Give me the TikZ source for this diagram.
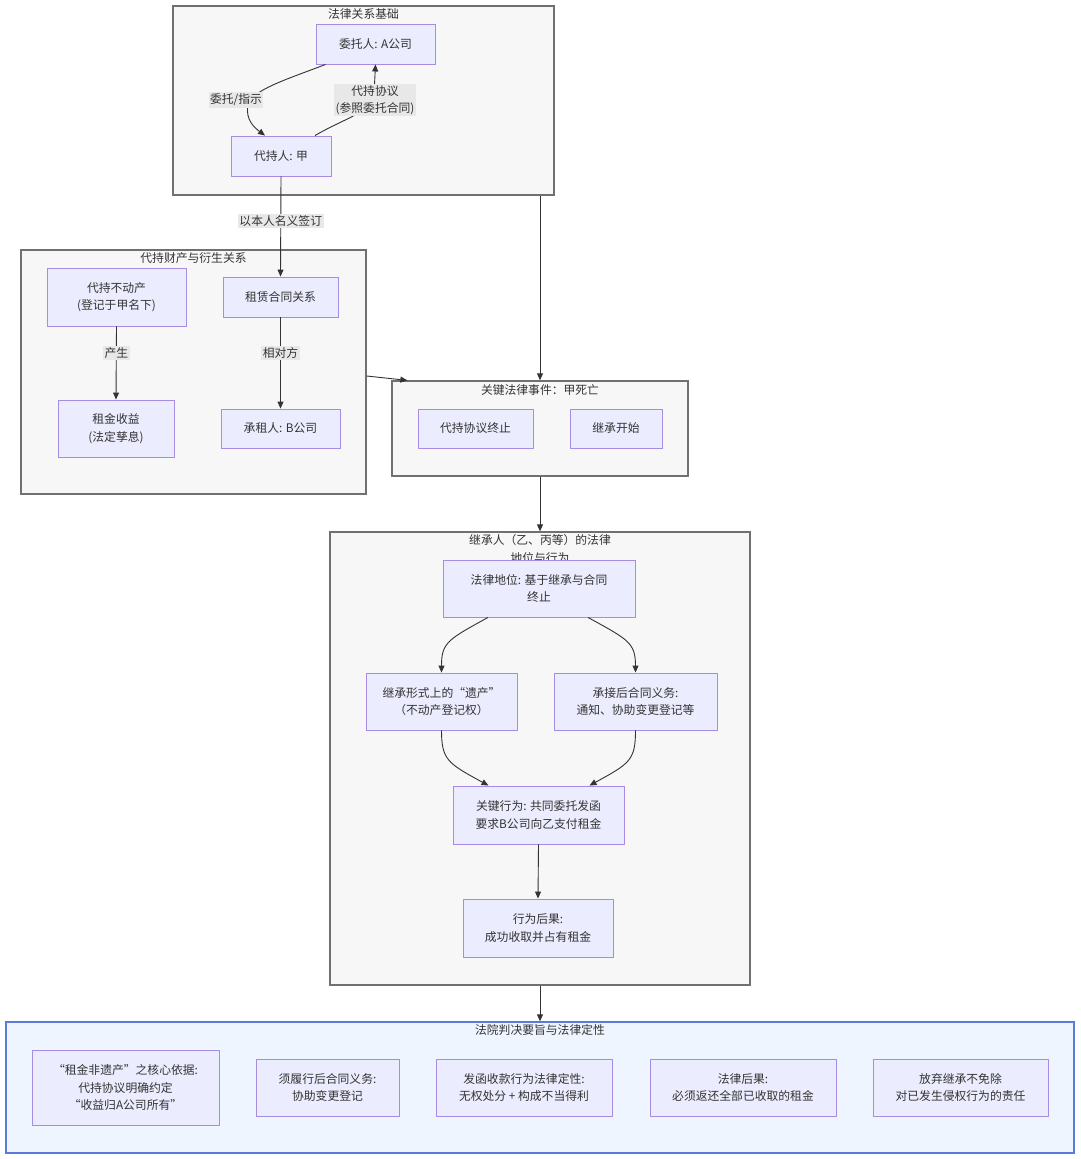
\documentclass[tikz,border=0pt]{standalone}
\usepackage{fontspec}
\setmainfont{Noto Sans CJK SC}
\usetikzlibrary{arrows.meta}
\definecolor{nodefill}{HTML}{ECECFF}
\definecolor{nodedraw}{HTML}{A68CE3}
\definecolor{clfill}{HTML}{F7F7F7}
\definecolor{cldraw}{HTML}{707070}
\definecolor{edgec}{HTML}{333333}
\definecolor{lblfill}{HTML}{E8E8E8}
\definecolor{bluefill}{HTML}{EFF5FF}
\definecolor{bluedraw}{HTML}{5B7BDB}
\newcommand\fs{\fontsize{11.8}{17.5}\selectfont}
\tikzset{
  box/.style={draw=nodedraw, fill=nodefill, line width=0.9pt, align=center, inner sep=0pt, font=\fs, text=black!80},
  cluster/.style={draw=cldraw, fill=clfill, line width=1.3pt, inner sep=0pt},
  bluecluster/.style={draw=bluedraw, fill=bluefill, line width=1.3pt, inner sep=0pt},
  ttl/.style={font=\fs, align=center, inner sep=0pt, text=black!80},
  lbl/.style={fill=lblfill, inner sep=1.5pt, align=center, font=\fs, text=black!80},
  arr/.style={draw=edgec, line width=0.9pt, -{Triangle[length=7pt,width=6pt]}},
}
\begin{document}
\begin{tikzpicture}[x=1pt,y=-1pt]
\useasboundingbox[fill=white] (0,0) rectangle (1080,1159);

% ---------- cluster 1
\node[cluster, minimum width=381pt, minimum height=189pt] (c1) at (363.5,100.5) {};
\node[ttl] (t1) at (363.5,14) {法律关系基础};
\node[box, minimum width=119pt, minimum height=40pt] (A) at (375.5,44) {委托人: A公司};
\node[box, minimum width=100pt, minimum height=40pt] (J) at (281,156) {代持人: 甲};

% ---------- cluster 2
\node[cluster, minimum width=345pt, minimum height=244pt] (c2) at (193.5,372) {};
\node[ttl] (t2) at (193.5,258) {代持财产与衍生关系};
\node[box, minimum width=139pt, minimum height=58pt] (P) at (116.5,297) {代持不动产\\(登记于甲名下)};
\node[box, minimum width=115pt, minimum height=40pt] (L) at (280.5,297) {租赁合同关系};
\node[box, minimum width=116pt, minimum height=57pt] (R) at (116,428.5) {租金收益\\(法定孳息)};
\node[box, minimum width=119pt, minimum height=39pt] (T) at (280.5,428.5) {承租人: B公司};

% ---------- cluster 3
\node[cluster, minimum width=296pt, minimum height=95pt] (c3) at (540,428.5) {};
\node[ttl] (t3) at (540,390) {关键法律事件：甲死亡};
\node[box, minimum width=115pt, minimum height=39pt] (E1) at (475.5,428.5) {代持协议终止};
\node[box, minimum width=92pt, minimum height=39pt] (E2) at (616,428.5) {继承开始};

% ---------- cluster 4
\node[cluster, minimum width=420pt, minimum height=453pt] (c4) at (540,758.5) {};
\node[ttl] (t4) at (540,549) {继承人（乙、丙等）的法律\\地位与行为};
\node[box, minimum width=192pt, minimum height=57pt] (S) at (539,588.5) {法律地位: 基于继承与合同\\终止};
\node[box, minimum width=151pt, minimum height=57pt] (H1) at (441.5,701.5) {继承形式上的“遗产”\\（不动产登记权）};
\node[box, minimum width=163pt, minimum height=57pt] (H2) at (635.5,701.5) {承接后合同义务:\\通知、协助变更登记等};
\node[box, minimum width=171pt, minimum height=58pt] (K) at (538.5,815) {关键行为: 共同委托发函\\要求B公司向乙支付租金};
\node[box, minimum width=150pt, minimum height=58pt] (Q) at (538,928) {行为后果:\\成功收取并占有租金};

% ---------- cluster 5
\node[bluecluster, minimum width=1068pt, minimum height=131pt] (c5) at (540,1087.5) {};
\node[ttl] (t5) at (540,1030) {法院判决要旨与法律定性};
\node[box, minimum width=187pt, minimum height=75pt] (F1) at (125.5,1087.5) {“租金非遗产”之核心依据:\\代持协议明确约定\\“收益归A公司所有”};
\node[box, minimum width=143pt, minimum height=57pt] (F2) at (327.5,1087.5) {须履行后合同义务:\\协助变更登记};
\node[box, minimum width=176pt, minimum height=57pt] (F3) at (524,1087.5) {发函收款行为法律定性:\\无权处分 + 构成不当得利};
\node[box, minimum width=186pt, minimum height=57pt] (F4) at (743,1087.5) {法律后果:\\必须返还全部已收取的租金};
\node[box, minimum width=175pt, minimum height=57pt] (F5) at (960.5,1087.5) {放弃继承不免除\\对已发生侵权行为的责任};

% ---------- edges
\draw[arr] ([xshift=-50pt]A.south) .. controls (285,80) and (252,90) .. (248,105)
  .. controls (245,120) and (255,128) .. ([xshift=-16pt]J.north);
\node[lbl] (l1) at (236,100) {委托/指示};

\draw[arr] ([xshift=34pt]J.north) .. controls (345,118) and (372,112) .. (374,95) -- (A.south);
\node[lbl] (l2) at (375,100) {代持协议\\(参照委托合同)};

\draw[arr] (J.south) -- (L.north) node[lbl, pos=0.445] (l3) {以本人名义签订};
\draw[arr] (P.south) -- (R.north) node[lbl, pos=0.365] (l4) {产生};
\draw[arr] (L.south) -- (T.north) node[lbl, pos=0.39] (l5) {相对方};

\draw[arr] (c1.south -| c3.north) -- (c3.north);
\draw[arr] ([yshift=-4pt]c2.east) -- ([xshift=16pt]c3.north west);
\draw[arr] (c3.south) -- (c4.north);

\draw[arr] ([xshift=-51pt]S.south) .. controls +(-40,22) and +(0,-30) .. (H1.north);
\draw[arr] ([xshift=49pt]S.south) .. controls +(40,22) and +(0,-30) .. (H2.north);
\draw[arr] (H1.south) .. controls +(0,30) and +(-40,-22) .. ([xshift=-50pt]K.north);
\draw[arr] (H2.south) .. controls +(0,30) and +(40,-22) .. ([xshift=51pt]K.north);
\draw[arr] (K.south) -- (Q.north);

\draw[arr] (c4.south) -- (c5.north);
\end{tikzpicture}
\end{document}
